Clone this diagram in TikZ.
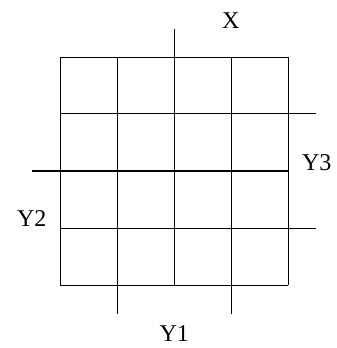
\documentclass[tikz,border=0pt]{standalone}
\usepackage{fontspec}
\setmainfont{Liberation Serif}
\usepackage{tikz}
\usetikzlibrary{positioning}

\begin{document}
\begin{tikzpicture}[
  font=\fontsize{12}{14}\selectfont,
  cell/.style={line width=0.5pt},
  lbl/.style={inner sep=1pt},
]
\useasboundingbox (-1.058,-1.105) rectangle (4.854,5.0);
% --- 4x4 map -------------------------------------------------------------
\draw[cell] (0,0) grid (4,4);
% --- variable bars ---------------------------------------------------------
\draw[cell] (2,4) -- (2,4.49);
\draw[cell] (4,3) -- (4.49,3);
\draw[cell] (4,1) -- (4.49,1);
\draw[cell] (0,2) -- (-0.5,2);
\draw[cell] (1,0) -- (1,-0.5);
\draw[cell] (3,0) -- (3,-0.5);
% --- labels ----------------------------------------------------------------
\node[lbl] (x) at (2.99,4.64) {X};
\node[lbl] (y3) at (4.5,2.14) {Y3};
\node[lbl] (y2) at (-0.5,1.16) {Y2};
\node[lbl] (y1) at (2,-0.86) {Y1};
\end{tikzpicture}
\end{document}
